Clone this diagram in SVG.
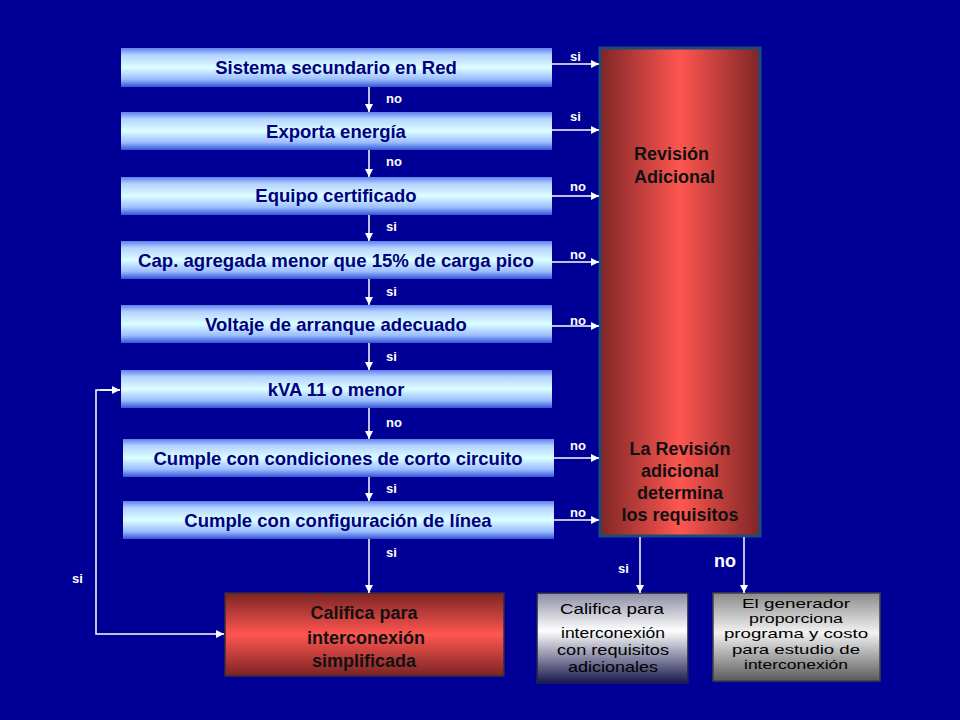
<svg xmlns="http://www.w3.org/2000/svg" width="960" height="720" viewBox="0 0 960 720">
<defs>
<linearGradient id="gBlue" x1="0" y1="0" x2="0" y2="1">
<stop offset="0" stop-color="#5f80ee"/>
<stop offset="0.18" stop-color="#b4d2ff"/>
<stop offset="0.5" stop-color="#dcffff"/>
<stop offset="0.8" stop-color="#9cbcff"/>
<stop offset="1" stop-color="#3454d6"/>
</linearGradient>
<linearGradient id="gRedH" x1="0" y1="0" x2="1" y2="0">
<stop offset="0" stop-color="#7e2626"/>
<stop offset="0.5" stop-color="#ff5650"/>
<stop offset="1" stop-color="#7e2626"/>
</linearGradient>
<linearGradient id="gRedV" x1="0" y1="0" x2="0" y2="1">
<stop offset="0" stop-color="#7a2424"/>
<stop offset="0.5" stop-color="#ff5650"/>
<stop offset="1" stop-color="#7a2424"/>
</linearGradient>
<linearGradient id="gGray1" x1="0" y1="0" x2="0" y2="1">
<stop offset="0" stop-color="#8c8ca4"/>
<stop offset="0.42" stop-color="#ffffff"/>
<stop offset="1" stop-color="#18184e"/>
</linearGradient>
<linearGradient id="gGray2" x1="0" y1="0" x2="0" y2="1">
<stop offset="0" stop-color="#8a8a8a"/>
<stop offset="0.45" stop-color="#f2f2f2"/>
<stop offset="1" stop-color="#5a5a5a"/>
</linearGradient>
<marker id="ah" viewBox="0 0 10 10" refX="10" refY="5" markerWidth="9" markerHeight="8" markerUnits="userSpaceOnUse" orient="auto">
<path d="M0,0 L10,5 L0,10 z" fill="#ffffff"/>
</marker>
<style>
.bx{fill:url(#gBlue);}
.bt{font-family:"Liberation Sans",Arial,sans-serif;font-weight:bold;font-size:18.5px;fill:#000080;text-anchor:middle;}
.lb{font-family:"Liberation Sans",Arial,sans-serif;font-weight:bold;font-size:13px;fill:#ffffff;}
.rt{font-family:"Liberation Sans",Arial,sans-serif;font-weight:bold;font-size:18px;fill:#111111;}
.gt{font-family:"Liberation Sans",Arial,sans-serif;font-size:15px;fill:#000000;text-anchor:middle;}
.gs{font-family:"Liberation Sans",Arial,sans-serif;font-size:13px;fill:#000000;text-anchor:middle;}
.cn{stroke:#ffffff;stroke-width:1.5;fill:none;}
</style>
</defs>
<rect x="0" y="0" width="960" height="720" fill="#000096"/>

<g id="n1"><rect class="bx" x="121" y="48" width="431" height="39"/><text class="bt" x="336" y="74">Sistema secundario en Red</text></g>
<g id="n2"><rect class="bx" x="121" y="112" width="431" height="38"/><text class="bt" x="336" y="138">Exporta energía</text></g>
<g id="n3"><rect class="bx" x="121" y="177" width="431" height="38"/><text class="bt" x="336" y="202">Equipo certificado</text></g>
<g id="n4"><rect class="bx" x="121" y="241" width="431" height="38"/><text class="bt" x="336" y="267" textLength="396" lengthAdjust="spacingAndGlyphs">Cap. agregada menor que 15% de carga pico</text></g>
<g id="n5"><rect class="bx" x="121" y="305" width="431" height="38"/><text class="bt" x="336" y="331">Voltaje de arranque adecuado</text></g>
<g id="n6"><rect class="bx" x="121" y="370" width="431" height="38"/><text class="bt" x="336" y="396">kVA 11 o menor</text></g>
<g id="n7"><rect class="bx" x="123" y="439" width="431" height="38"/><text class="bt" x="338" y="465">Cumple con condiciones de corto circuito</text></g>
<g id="n8"><rect class="bx" x="123" y="501" width="431" height="38"/><text class="bt" x="338" y="527">Cumple con configuración de línea</text></g>

<g id="rev">
<rect x="600" y="48" width="160" height="488" fill="url(#gRedH)" stroke="#1c4a7a" stroke-width="3"/>
<text class="rt" x="634" y="160">Revisión</text>
<text class="rt" x="634" y="183">Adicional</text>
<text class="rt" x="680" y="455" text-anchor="middle">La Revisión</text>
<text class="rt" x="680" y="477" text-anchor="middle">adicional</text>
<text class="rt" x="680" y="499" text-anchor="middle">determina</text>
<text class="rt" x="680" y="521" text-anchor="middle">los requisitos</text>
</g>

<g id="simp">
<rect x="225" y="593" width="279" height="83" fill="url(#gRedV)" stroke="#3a2a3a" stroke-width="1.5"/>
<text class="rt" x="364" y="619" text-anchor="middle">Califica para</text>
<text class="rt" x="366" y="644" text-anchor="middle">interconexión</text>
<text class="rt" x="364" y="667" text-anchor="middle">simplificada</text>
</g>

<g id="adic">
<rect x="537" y="593" width="151" height="90" fill="url(#gGray1)" stroke="#20204a" stroke-width="1.5"/>
<text class="gt" x="612" y="614" textLength="104" lengthAdjust="spacingAndGlyphs">Califica para</text>
<text class="gt" x="613" y="638" textLength="104" lengthAdjust="spacingAndGlyphs">interconexión</text>
<text class="gt" x="613" y="655" textLength="112" lengthAdjust="spacingAndGlyphs">con requisitos</text>
<text class="gt" x="613" y="672" textLength="90" lengthAdjust="spacingAndGlyphs">adicionales</text>
</g>

<g id="gen">
<rect x="713" y="593" width="167" height="88" fill="url(#gGray2)" stroke="#404040" stroke-width="1.5"/>
<text class="gs" x="796" y="608" textLength="108" lengthAdjust="spacingAndGlyphs">El generador</text>
<text class="gs" x="796" y="623" textLength="94" lengthAdjust="spacingAndGlyphs">proporciona</text>
<text class="gs" x="796" y="638" textLength="144" lengthAdjust="spacingAndGlyphs">programa y costo</text>
<text class="gs" x="796" y="654" textLength="128" lengthAdjust="spacingAndGlyphs">para estudio de</text>
<text class="gs" x="796" y="669" textLength="104" lengthAdjust="spacingAndGlyphs">interconexión</text>
</g>

<g id="connectors">
<line class="cn" x1="369" y1="87" x2="369" y2="112" marker-end="url(#ah)"/>
<line class="cn" x1="369" y1="150" x2="369" y2="177" marker-end="url(#ah)"/>
<line class="cn" x1="369" y1="215" x2="369" y2="241" marker-end="url(#ah)"/>
<line class="cn" x1="369" y1="279" x2="369" y2="305" marker-end="url(#ah)"/>
<line class="cn" x1="369" y1="343" x2="369" y2="370" marker-end="url(#ah)"/>
<line class="cn" x1="369" y1="408" x2="369" y2="439" marker-end="url(#ah)"/>
<line class="cn" x1="369" y1="477" x2="369" y2="501" marker-end="url(#ah)"/>
<line class="cn" x1="369" y1="539" x2="369" y2="593" marker-end="url(#ah)"/>

<line class="cn" x1="552" y1="64" x2="599" y2="64" marker-end="url(#ah)"/>
<line class="cn" x1="552" y1="130" x2="599" y2="130" marker-end="url(#ah)"/>
<line class="cn" x1="552" y1="196" x2="599" y2="196" marker-end="url(#ah)"/>
<line class="cn" x1="552" y1="262" x2="599" y2="262" marker-end="url(#ah)"/>
<line class="cn" x1="552" y1="326" x2="599" y2="326" marker-end="url(#ah)"/>
<line class="cn" x1="554" y1="458" x2="599" y2="458" marker-end="url(#ah)"/>
<line class="cn" x1="554" y1="520" x2="599" y2="520" marker-end="url(#ah)"/>

<line class="cn" x1="640" y1="537" x2="640" y2="593" marker-end="url(#ah)"/>
<line class="cn" x1="744" y1="537" x2="744" y2="593" marker-end="url(#ah)"/>

<polyline class="cn" points="120,390 96,390 96,634 224,634" marker-end="url(#ah)"/>
<line class="cn" x1="100" y1="390" x2="120" y2="390" marker-end="url(#ah)"/>

<text class="lb" x="386" y="103">no</text>
<text class="lb" x="386" y="166">no</text>
<text class="lb" x="386" y="231">si</text>
<text class="lb" x="386" y="296">si</text>
<text class="lb" x="386" y="361">si</text>
<text class="lb" x="386" y="427">no</text>
<text class="lb" x="386" y="493">si</text>
<text class="lb" x="386" y="557">si</text>

<text class="lb" x="570" y="61">si</text>
<text class="lb" x="570" y="121">si</text>
<text class="lb" x="570" y="191">no</text>
<text class="lb" x="570" y="259">no</text>
<text class="lb" x="570" y="325">no</text>
<text class="lb" x="570" y="450">no</text>
<text class="lb" x="570" y="517">no</text>

<text class="lb" x="618" y="573">si</text>
<text class="lb" x="714" y="567" style="font-size:18px">no</text>
<text class="lb" x="72" y="583">si</text>
</g>
</svg>
